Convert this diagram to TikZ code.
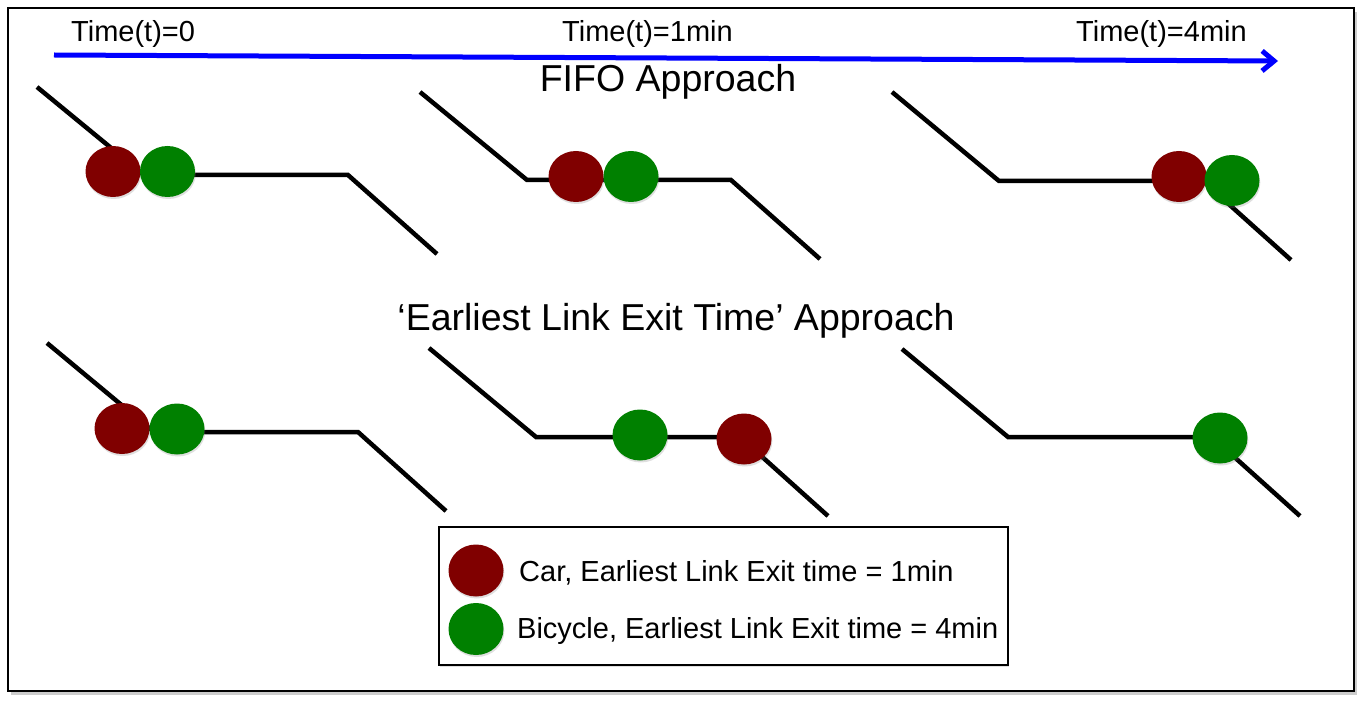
\documentclass[tikz,border=0pt]{standalone}
\usepackage{fontspec}
\setmainfont{Liberation Sans}
\usetikzlibrary{arrows.meta,shadows}

\begin{document}
\begin{tikzpicture}[x=1pt,y=-1pt,
	road/.style={BLACK, solid, line join=miter, line cap=butt, line width=4.5},
	car/.style={fill=CAR, drop shadow={opacity=.25, shadow xshift=.8pt, shadow yshift=-2pt}},
	bike/.style={fill=BIKE, drop shadow={opacity=.25, shadow xshift=.8pt, shadow yshift=-2pt}},
	timelabel/.style={font=\fontsize{29}{34}\selectfont, BLACK, inner sep=0, anchor=base west},
	headline/.style={font=\fontsize{37.5}{44}\selectfont, BLACK, inner sep=0, anchor=base}]
	\definecolor{BLACK}{RGB}{0,0,0}
	\definecolor{WHITE}{RGB}{255,255,255}
	\definecolor{BLUE}{RGB}{0,0,255}
	\definecolor{CAR}{RGB}{128,0,0}
	\definecolor{BIKE}{RGB}{0,128,0}
	\useasboundingbox (0,0) rectangle (1362,703);
	% frame
	\draw[BLACK, line width=2, fill=WHITE, drop shadow={opacity=.4, shadow xshift=3pt, shadow yshift=-4pt}]
	(8,8) rectangle (1354,691);
	% time axis
	\coordinate (axisL) at (54,55);
	\coordinate (axisR) at (1278,61);
	\draw[BLUE, line width=5, -{Straight Barb[length=12pt, width=20pt]}]
	(axisL) -- (axisR);
	\node[timelabel] (time0) at (71,42) {Time(t)=0};
	\node[timelabel] (time1) at (562,42) {Time(t)=1min};
	\node[timelabel] (time4) at (1076,42) {Time(t)=4min};
	% FIFO approach
	\node[headline] (fifo) at (668,92) {FIFO Approach};
	\draw[road] (37,87) -- (144,175) -- (348,175) -- (437,254);
	\draw[road] (420,92) -- (527,180) -- (731,180) -- (820,259);
	\draw[road] (892,92) -- (999,181) -- (1203,181) -- (1291,260);
	\fill[car] (113,171.5) ellipse[x radius=27.5, y radius=25.5];
	\fill[bike] (167.5,171.5) ellipse[x radius=27.5, y radius=25.5];
	\fill[car] (576,176.5) ellipse[x radius=27.5, y radius=25.5];
	\fill[bike] (631,176.5) ellipse[x radius=27.5, y radius=25.5];
	\fill[car] (1179,176.5) ellipse[x radius=27.5, y radius=25.5];
	\fill[bike] (1232,180.5) ellipse[x radius=27.5, y radius=25.5];
	% earliest link exit time approach
	\node[headline] (elet) at (676,330) {`Earliest Link Exit Time' Approach};
	\draw[road] (47,343) -- (154,432) -- (358,432) -- (446,511);
	\draw[road] (429,348) -- (536,437) -- (740,437) -- (828,516);
	\draw[road] (902,349) -- (1008,437) -- (1212,437) -- (1300,516);
	\fill[car] (122,428.5) ellipse[x radius=27.5, y radius=25.5];
	\fill[bike] (177,429) ellipse[x radius=27.5, y radius=25.5];
	\fill[bike] (640,435) ellipse[x radius=27.5, y radius=25.5];
	\fill[car] (744,439) ellipse[x radius=27.5, y radius=25.5];
	\fill[bike] (1220,438) ellipse[x radius=27.5, y radius=25.5];
	% legend
	\draw[BLACK, line width=1.5, fill=WHITE, drop shadow={opacity=.25, shadow xshift=1pt, shadow yshift=-2pt}]
	(439,527) rectangle (1008,665);
	\fill[car] (476,570.5) ellipse[x radius=27.5, y radius=26];
	\fill[bike] (476,629) ellipse[x radius=27.5, y radius=26];
	\node[timelabel] (carkey) at (519,581) {Car, Earliest Link Exit time = 1min};
	\node[timelabel] (bikekey) at (517,638) {Bicycle, Earliest Link Exit time = 4min};
\end{tikzpicture}
\end{document}
